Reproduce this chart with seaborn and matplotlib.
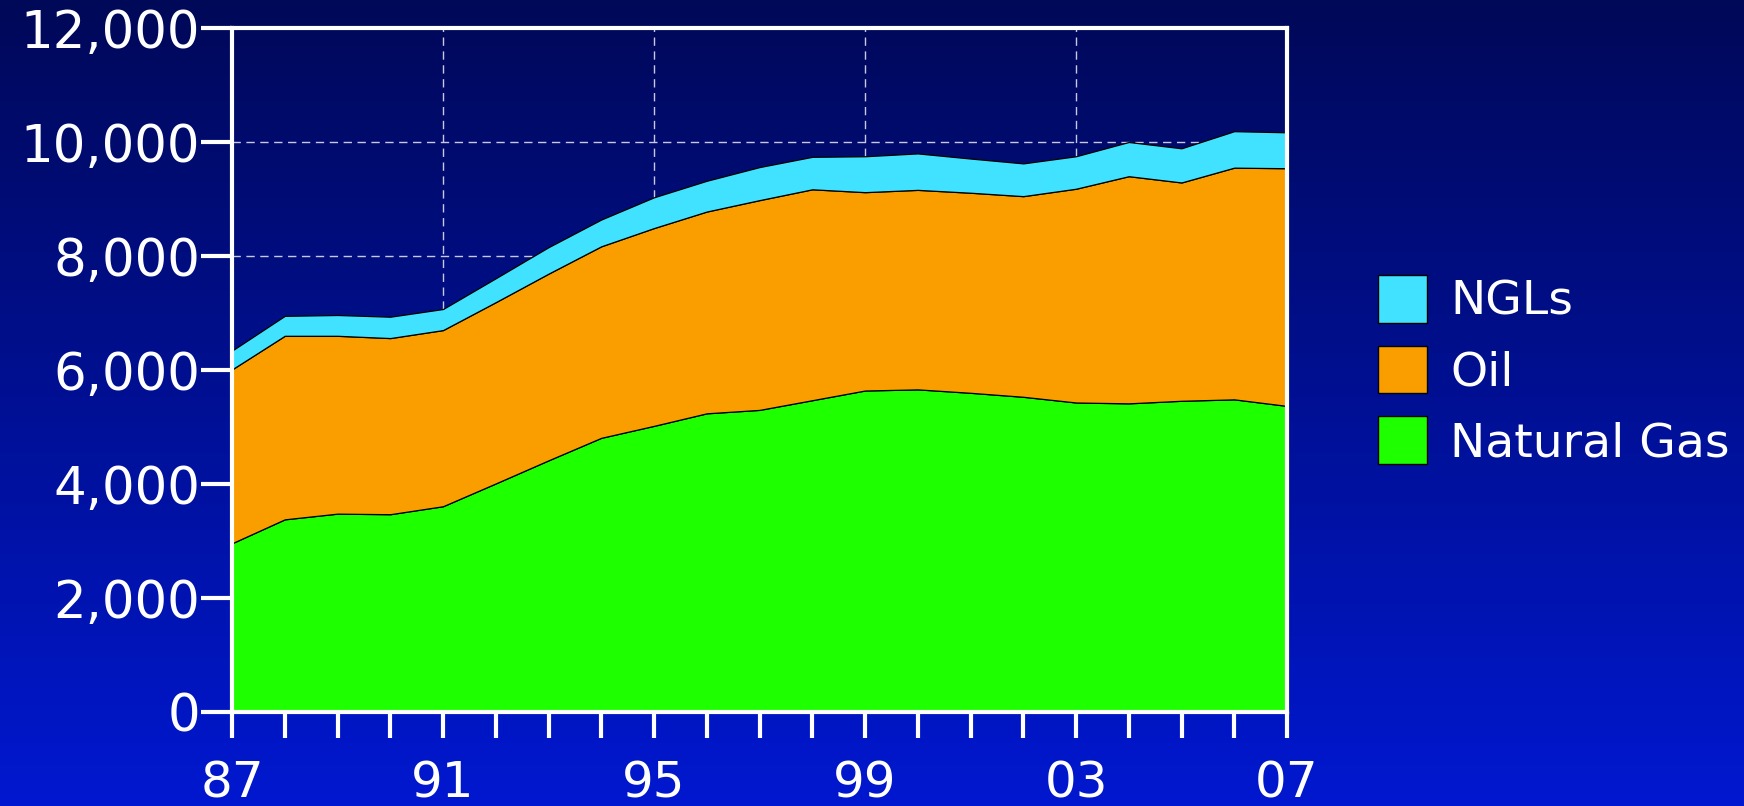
import numpy as np
import matplotlib
matplotlib.use("Agg")
import matplotlib.pyplot as plt
import seaborn as sns
from matplotlib.patches import Patch
from matplotlib.ticker import FuncFormatter, MultipleLocator, FixedLocator

years = list(range(1987, 2008))
natural_gas = [2960, 3380, 3480, 3470, 3610, 4010, 4415, 4810, 5020, 5240, 5300,
               5470, 5640, 5660, 5600, 5530, 5430, 5415, 5460, 5485, 5370]
oil = [3050, 3220, 3120, 3090, 3090, 3180, 3275, 3360, 3470, 3540, 3680,
       3700, 3480, 3500, 3510, 3520, 3750, 3985, 3830, 4065, 4170]
ngls = [330, 350, 365, 375, 370, 420, 465, 470, 540, 540, 580,
        570, 630, 640, 600, 575, 570, 600, 600, 640, 630]
series_names = ["Natural Gas", "Oil", "NGLs"]
series_colors = ["#1EFF00", "#FA9E00", "#40E2FF"]
label_years = [1987, 1991, 1995, 1999, 2003, 2007]

sns.set_style("white")
plt.rcParams["font.family"] = ["DejaVu Sans"]

fig = plt.figure(figsize=(17.44, 8.06), dpi=100)

# background gradient
bg = fig.add_axes([0, 0, 1, 1], zorder=-10)
top = np.array([0, 8, 88]) / 255
bot = np.array([0, 24, 208]) / 255
t = np.linspace(0, 1, 256)[:, None]
grad = top[None, :] * (1 - t) + bot[None, :] * t
bg.imshow(grad[:, None, :], aspect="auto", extent=[0, 1, 0, 1])
bg.set_axis_off()

ax = fig.add_axes([232 / 1744, 1 - 712 / 806, (1287 - 232) / 1744, (712 - 28) / 806])
ax.set_facecolor("none")
ax.patch.set_alpha(0)

ax.stackplot(years, natural_gas, oil, ngls, colors=series_colors,
             edgecolor="black", linewidth=0.9, zorder=3)

ax.set_xlim(1987, 2007)
ax.set_ylim(0, 12000)

ax.xaxis.set_major_locator(FixedLocator(label_years))
ax.xaxis.set_minor_locator(MultipleLocator(1))
ax.xaxis.set_major_formatter(FuncFormatter(lambda v, p: f"{int(v) % 100:02d}"))
ax.yaxis.set_major_locator(MultipleLocator(2000))
ax.yaxis.set_major_formatter(FuncFormatter(lambda v, p: f"{int(v):,}"))

ax.tick_params(axis="x", which="both", direction="out", length=19, width=3,
               color="white", labelcolor="white", labelsize=36, pad=15, bottom=True)
ax.tick_params(axis="y", which="major", direction="out", length=22, width=3,
               color="white", labelcolor="white", labelsize=37, pad=1, left=True)

ax.grid(True, which="major", color="#C8C8E6", linestyle=(0, (6, 4)), linewidth=1.0, zorder=1)
ax.set_axisbelow(True)
for s in ax.spines.values():
    s.set_color("white")
    s.set_linewidth(3)
    s.set_visible(True)
    s.set_zorder(5)

handles = [Patch(facecolor=series_colors[i], edgecolor="black", linewidth=1,
                 label=series_names[i]) for i in [2, 1, 0]]
leg = fig.legend(handles=handles, loc="upper left", bbox_to_anchor=(1378 / 1744, 1 - 275 / 806),
                 frameon=False, fontsize=34, handlelength=1.03, handleheight=1.18,
                 handletextpad=0.5, labelspacing=0.44, borderpad=0, borderaxespad=0)
for txt in leg.get_texts():
    txt.set_color("white")

fig.savefig("out.png", dpi=100)
